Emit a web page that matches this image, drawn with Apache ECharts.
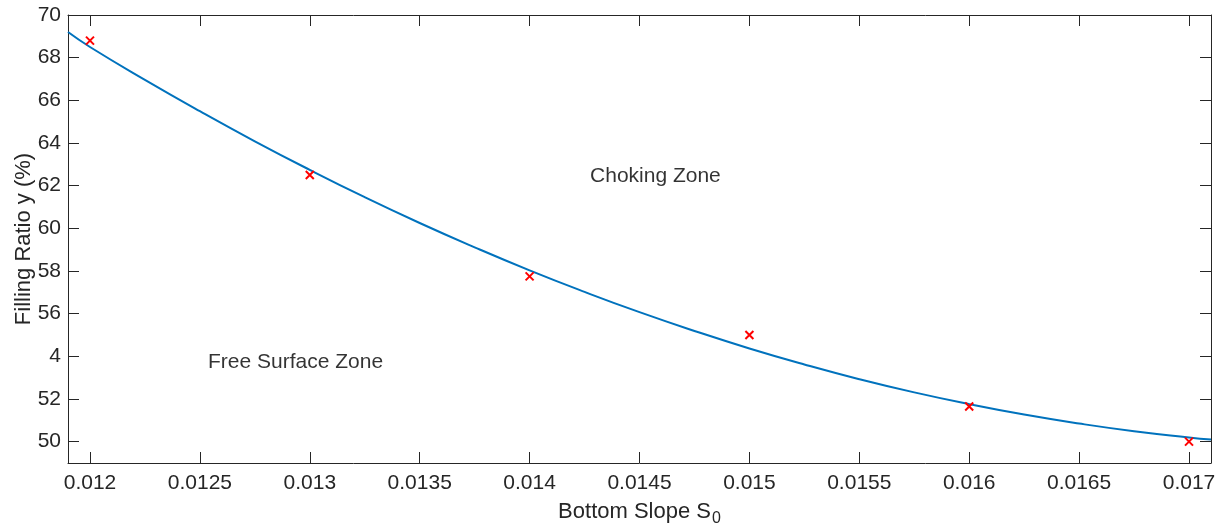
<!DOCTYPE html>
<html>
<head>
<meta charset="utf-8">
<script src="https://cdn.jsdelivr.net/npm/echarts@6/dist/echarts.min.js"></script>
<style>
  html, body { margin: 0; padding: 0; background: #fff; }
  #chart { width: 1224px; height: 531px; }
</style>
</head>
<body>
<div id="chart"></div>
<script>
// measured points (red crosses)
const slopes = [0.012, 0.013, 0.014, 0.015, 0.016, 0.017];
const ratios = [68.8, 62.5, 57.75, 55.0, 51.65, 50.0];

// fitted curve
const fitSlopes = [0.0119, 0.012, 0.01225, 0.0125, 0.01275, 0.013, 0.01325, 0.0135, 0.01375,
  0.014, 0.01425, 0.0145, 0.01475, 0.015, 0.01525, 0.0155, 0.01575, 0.016, 0.01625,
  0.0165, 0.01675, 0.017, 0.0171];
const fitRatios = [69.2, 68.5, 66.96, 65.49, 64.08, 62.74, 61.46, 60.25, 59.11,
  58.03, 57.02, 56.07, 55.19, 54.37, 53.62, 52.93, 52.31, 51.76, 51.27,
  50.85, 50.49, 50.2, 50.1];

// axis ticks (the original has "4" where 54 should be)
const xTicks = [0.012, 0.0125, 0.013, 0.0135, 0.014, 0.0145, 0.015, 0.0155, 0.016, 0.0165, 0.017];
const xTickLabels = ['0.012', '0.0125', '0.013', '0.0135', '0.014', '0.0145', '0.015', '0.0155', '0.016', '0.0165', '0.017'];
const yTicks = [50, 52, 54, 56, 58, 60, 62, 64, 66, 68, 70];
const yTickLabels = ['50', '52', '4', '56', '58', '60', '62', '64', '66', '68', '70'];

// zone labels (left edge / vertical middle, data coords)
const zoneNames = ['Choking Zone', 'Free Surface Zone'];
const zoneX = [0.014275, 0.012537];
const zoneY = [62.45, 53.73];

const font = 'Arial, "Liberation Sans", Helvetica, sans-serif';
const axisColor = '#262626';

function tickLabel(ticks, labels) {
  return function (v) {
    for (let i = 0; i < ticks.length; i++) {
      if (Math.abs(ticks[i] - v) < 1e-9) return labels[i];
    }
    return '';
  };
}

const boxAxis = {
  axisLine: { show: true, lineStyle: { color: axisColor, width: 1 } },
  axisLabel: { show: false },
  splitLine: { show: false }
};

const chart = echarts.init(document.getElementById('chart'));
chart.setOption({
  animation: false,
  backgroundColor: '#fff',
  textStyle: { fontFamily: font },
  grid: { left: 68, right: 13, top: 15, bottom: 68, outerBoundsMode: 'none' },
  xAxis: [
    {
      type: 'value', min: 0.0119, max: 0.0171, position: 'bottom',
      name: '{a|Bottom Slope S}{b|0}', nameLocation: 'middle', nameGap: 38, nameMoveOverlap: false,
      nameTextStyle: {
        rich: {
          a: { fontSize: 22, fontFamily: font, color: axisColor, lineHeight: 26, verticalAlign: 'top' },
          b: { fontSize: 16, fontFamily: font, color: axisColor, lineHeight: 16, padding: [19, 0, 0, 1], verticalAlign: 'bottom' }
        }
      },
      axisLine: { show: true, lineStyle: { color: axisColor, width: 1 } },
      axisTick: { show: true, inside: true, length: 11, customValues: xTicks, lineStyle: { color: axisColor } },
      axisLabel: { customValues: xTicks, formatter: tickLabel(xTicks, xTickLabels), fontSize: 21, color: axisColor, margin: 10, fontFamily: font },
      splitLine: { show: false }
    },
    Object.assign({
      type: 'value', min: 0.0119, max: 0.0171, position: 'top',
      axisTick: { show: true, inside: true, length: 11, customValues: xTicks, lineStyle: { color: axisColor } }
    }, boxAxis)
  ],
  yAxis: [
    {
      type: 'value', min: 49, max: 70, position: 'left',
      name: 'Filling Ratio y (%)', nameLocation: 'middle', nameGap: 33, nameMoveOverlap: false,
      nameTextStyle: { fontSize: 22, color: axisColor, fontFamily: font },
      axisLine: { show: true, lineStyle: { color: axisColor, width: 1 } },
      axisTick: { show: true, inside: true, length: 11, customValues: yTicks, lineStyle: { color: axisColor } },
      axisLabel: { customValues: yTicks, formatter: tickLabel(yTicks, yTickLabels), fontSize: 21, color: axisColor, margin: 7, fontFamily: font },
      splitLine: { show: false }
    },
    Object.assign({
      type: 'value', min: 49, max: 70, position: 'right',
      axisTick: { show: true, inside: true, length: 11, customValues: yTicks, lineStyle: { color: axisColor } }
    }, boxAxis)
  ],
  series: [
    {
      type: 'line',
      data: fitSlopes.map((x, i) => [x, fitRatios[i]]),
      smooth: true,
      showSymbol: false,
      lineStyle: { color: '#0072BD', width: 2 },
      z: 2
    },
    {
      type: 'scatter',
      data: slopes.map((x, i) => [x, ratios[i]]),
      symbol: 'path://M0,0 L10,10 M10,0 L0,10',
      symbolSize: 8,
      itemStyle: { color: 'none', borderColor: '#ff0000', borderWidth: 2, opacity: 1 },
      z: 3
    },
    {
      type: 'scatter',
      data: zoneNames.map((n, i) => ({ name: n, value: [zoneX[i], zoneY[i]] })),
      symbolSize: 0,
      silent: true,
      label: {
        show: true, position: 'right', distance: 0,
        formatter: p => p.name,
        fontSize: 21, color: '#000', fontFamily: font
      }
    }
  ]
});
</script>
</body>
</html>
